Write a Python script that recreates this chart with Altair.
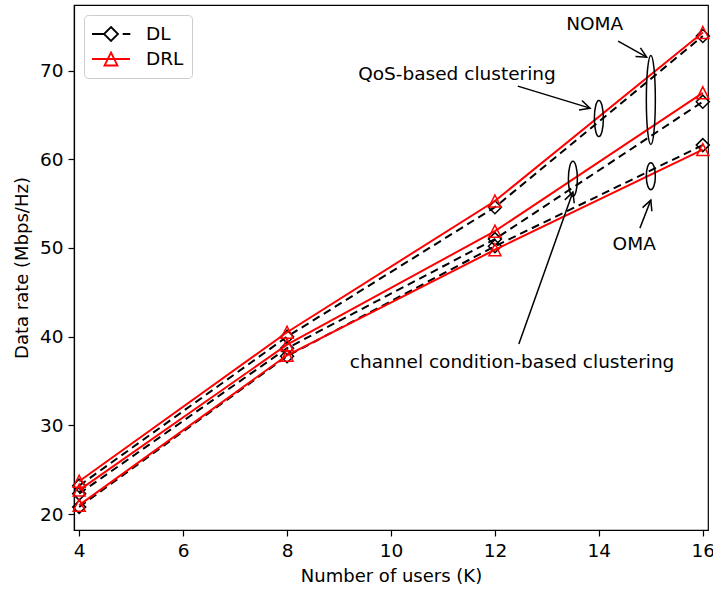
import math

import altair as alt
import pandas as pd

# ---- data ---------------------------------------------------------------
users = [4, 8, 12, 16]
qos_dl = [23.2, 40.0, 54.6, 73.9]
qos_drl = [23.7, 40.5, 55.3, 74.3]
channel_dl = [22.3, 38.7, 51.0, 66.5]
channel_drl = [22.7, 39.1, 51.9, 67.5]
oma_dl = [20.8, 37.8, 50.2, 61.6]
oma_drl = [21.0, 37.9, 49.8, 61.1]

methods = ["DL", "DRL"]
x_ticks = [4, 6, 8, 10, 12, 14, 16]
y_ticks = [20, 30, 40, 50, 60, 70]

# annotation texts and anchor points (data units)
note_text = ["QoS-based clustering", "NOMA", "OMA", "channel condition-based clustering"]
note_x = [11.27, 13.92, 14.68, 12.33]
note_y = [69.6, 75.3, 50.5, 37.1]

# arrows: tail -> head (data units)
arrow_x = [12.44, 14.37, 14.79, 12.46]
arrow_y = [68.25, 73.33, 52.24, 39.17]
arrow_x2 = [13.83, 14.92, 15.0, 13.5]
arrow_y2 = [65.77, 71.52, 55.4, 56.3]

# ellipses grouping the curves (centre in data units, height in px)
ring_x = [14.0, 15.0, 13.5, 15.0]
ring_y = [64.6, 66.7, 57.8, 58.1]
ring_h = [36, 89, 35, 27]

# ---- layout -------------------------------------------------------------
W, H = 634, 525
X_DOM = [3.9, 16.1]
Y_DOM = [18.2, 77.4]
FONT = "DejaVu Sans"
RED = "#ff0000"

series = [
    ("qos", "DL", qos_dl), ("qos", "DRL", qos_drl),
    ("channel", "DL", channel_dl), ("channel", "DRL", channel_drl),
    ("oma", "DL", oma_dl), ("oma", "DRL", oma_drl),
]
rows = []
for scheme, method, vals in series:
    for u, v in zip(users, vals):
        rows.append({"users": u, "rate": v, "method": method, "scheme": scheme})
df = pd.DataFrame(rows)

px_x = W / (X_DOM[1] - X_DOM[0])
px_y = H / (Y_DOM[1] - Y_DOM[0])


def head_angle(x0, y0, x1, y1):
    dx = (x1 - x0) * px_x
    dy = -(y1 - y0) * px_y
    return math.degrees(math.atan2(dx, -dy)) % 360


def ellipse_path(ratio):
    k = 0.5523
    a = ratio
    return (
        f"M 0 -1 C {k*a:.4f} -1 {a:.4f} {-k:.4f} {a:.4f} 0 "
        f"C {a:.4f} {k:.4f} {k*a:.4f} 1 0 1 "
        f"C {-k*a:.4f} 1 {-a:.4f} {k:.4f} {-a:.4f} 0 "
        f"C {-a:.4f} {-k:.4f} {-k*a:.4f} -1 0 -1 Z"
    )


notes = pd.DataFrame({"users": note_x, "rate": note_y, "label": note_text})
arrows = pd.DataFrame({
    "users": arrow_x, "rate": arrow_y, "users2": arrow_x2, "rate2": arrow_y2,
})
heads = pd.DataFrame({
    "users": arrow_x2, "rate": arrow_y2,
    "angle": [head_angle(a, b, c, d) for a, b, c, d in zip(arrow_x, arrow_y, arrow_x2, arrow_y2)],
})

TRI = "M 0 -1 L 1 1 L -1 1 Z"
CHEVRON = "M -0.5 1 L 0 0 L 0.5 1"
# legend keys: line sample with the marker drawn in the middle
DL_KEY = "M -1.9 0 L -0.7 0 M 0 -0.7 L 0.7 0 L 0 0.7 L -0.7 0 Z M 1.17 0 L 1.93 0"
DRL_KEY = "M -1.9 0 L 1.9 0 M 0 -0.65 L 0.65 0.65 L -0.65 0.65 Z"

x_enc = alt.X(
    "users:Q",
    scale=alt.Scale(domain=X_DOM, nice=False, zero=False),
    axis=alt.Axis(values=x_ticks, title="Number of users (K)", format="d"),
)
y_enc = alt.Y(
    "rate:Q",
    scale=alt.Scale(domain=Y_DOM, nice=False, zero=False),
    axis=alt.Axis(values=y_ticks, title="Data rate (Mbps/Hz)", format="d"),
)

legend = alt.Legend(
    title=None,
    orient="top-left",
    offset=10,
    padding=8,
    fillColor="white",
    strokeColor="#cccccc",
    cornerRadius=4,
    labelFont=FONT,
    labelFontSize=18.5,
    labelColor="black",
    symbolSize=400,
    symbolStrokeWidth=1.8,
    symbolOpacity=1,
    symbolOffset=8,
    labelOffset=24,
    rowPadding=3,
)

base = alt.Chart(df)
dl = base.transform_filter("datum.method === 'DL'")
drl = base.transform_filter("datum.method === 'DRL'")

dl_line = dl.mark_line(color="black", strokeWidth=2, strokeDash=[8, 5]).encode(
    x=x_enc, y=y_enc, detail="scheme:N",
)
dl_pts = dl.mark_point(
    shape="diamond", filled=False, color="black", size=169, strokeWidth=1.5, opacity=1
).encode(x="users:Q", y="rate:Q")
drl_line = drl.mark_line(color=RED, strokeWidth=2).encode(
    x="users:Q", y="rate:Q", detail="scheme:N",
)
drl_pts = drl.mark_point(
    shape=TRI, filled=False, color=RED, size=144, strokeWidth=1.5, opacity=1
).encode(x="users:Q", y="rate:Q")

# invisible marks that only carry the legend
key_layer = base.mark_point(filled=False, opacity=0, strokeWidth=1.8).encode(
    x="users:Q", y="rate:Q",
    color=alt.Color("method:N", scale=alt.Scale(domain=methods, range=["black", RED]), legend=legend),
    shape=alt.Shape("method:N", scale=alt.Scale(domain=methods, range=[DL_KEY, DRL_KEY]), legend=legend),
)

ring_w = 9
ring_layers = []
for rx, ry, rh in zip(ring_x, ring_y, ring_h):
    ring_layers.append(
        alt.Chart(pd.DataFrame({"users": [rx], "rate": [ry]})).mark_point(
            shape=ellipse_path(ring_w / rh), size=rh * rh,
            filled=False, color="black", strokeWidth=1.5, opacity=1,
        ).encode(x="users:Q", y="rate:Q")
    )

shaft_layer = alt.Chart(arrows).mark_rule(color="black", strokeWidth=1.5).encode(
    x="users:Q", y="rate:Q", x2="users2:Q", y2="rate2:Q",
)
head_layer = alt.Chart(heads).mark_point(
    shape=CHEVRON, filled=False, color="black", size=400, strokeWidth=1.5, opacity=1
).encode(
    x="users:Q", y="rate:Q", angle=alt.Angle("angle:Q", scale=None),
)
note_layer = alt.Chart(notes).mark_text(
    font=FONT, fontSize=18.5, color="black", align="center", baseline="middle"
).encode(
    x="users:Q", y="rate:Q", text="label:N",
)

chart = alt.layer(
    dl_line, dl_pts, drl_line, drl_pts, key_layer,
    *ring_layers, shaft_layer, head_layer, note_layer,
).properties(
    width=W,
    height=H,
    autosize=alt.AutoSizeParams(type="none"),
    padding={"left": 74, "top": 5, "right": 5, "bottom": 62},
    background="white",
).configure(
    font=FONT,
).configure_view(
    stroke="black", strokeWidth=1.2,
).configure_axis(
    grid=False,
    domainColor="black",
    domainWidth=1.2,
    tickColor="black",
    tickWidth=1.2,
    tickSize=6,
    labelColor="black",
    labelFont=FONT,
    labelFontSize=18.5,
    labelPadding=5,
    titleColor="black",
    titleFont=FONT,
    titleFontSize=18,
    titleFontWeight="normal",
).configure_axisX(
    titlePadding=8,
).configure_axisY(
    titlePadding=8,
)

chart.save("out.html", embed_options={"renderer": "svg", "actions": False})
